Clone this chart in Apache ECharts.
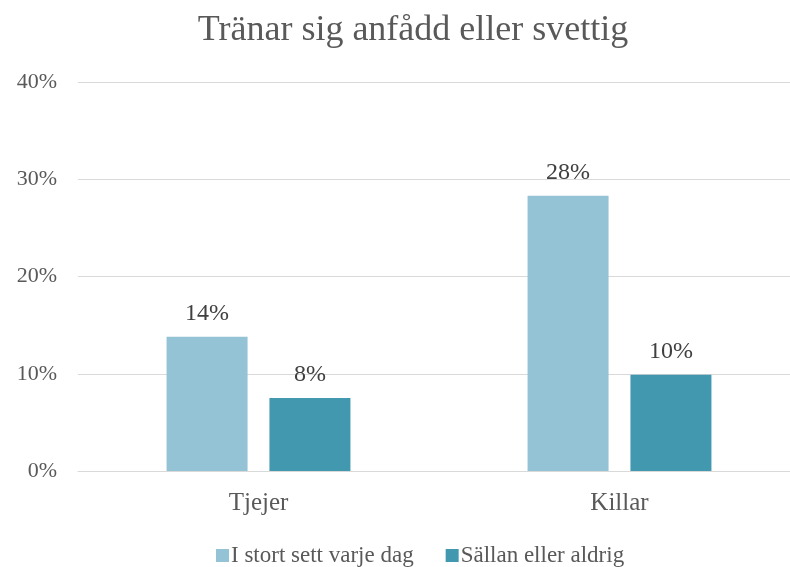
<!DOCTYPE html>
<html>
<head>
<meta charset="utf-8">
<script src="https://cdn.jsdelivr.net/npm/echarts@6/dist/echarts.min.js"></script>
<style>
  html, body { margin: 0; padding: 0; background: #fff; overflow: hidden; }
  /* the chart is a little wider than the viewport; its right edge is cut off */
  #chart { width: 826px; height: 567px; }
</style>
</head>
<body>
<div id="chart"></div>
<script>
// Andel som tränar så att de blir anfådda eller svettiga
const categories = ['Tjejer', 'Killar'];
const seriesNames = ['I stort sett varje dag', 'Sällan eller aldrig'];
const dailyValues = [0.138, 0.283];
const rarelyValues = [0.075, 0.099];
const yTicks = [0, 0.1, 0.2, 0.3, 0.4];

const FONT = '"Liberation Serif", "DejaVu Serif", serif';
const pct = v => Math.round(v * 100) + '%';

const chart = echarts.init(document.getElementById('chart'), null, { renderer: 'canvas' });

const labelStyle = {
  show: true,
  position: 'top',
  distance: 11,
  formatter: p => pct(p.value),
  fontFamily: FONT,
  fontSize: 24,
  color: '#404040'
};

chart.setOption({
  animation: false,
  backgroundColor: '#ffffff',
  title: {
    text: 'Tränar sig anfådd eller svettig',
    left: 'center',
    top: 8,
    textStyle: { fontFamily: FONT, fontSize: 36, fontWeight: 'normal', color: '#595959' }
  },
  legend: {
    data: seriesNames,
    left: 211,
    top: 539,
    itemWidth: 13,
    itemHeight: 13,
    itemGap: 32,
    icon: 'rect',
    textStyle: { fontFamily: FONT, fontSize: 23, color: '#595959', padding: [0, 0, 0, -3] }
  },
  grid: { left: 78, top: 82, right: 26, height: 389, containLabel: false },
  xAxis: {
    type: 'category',
    data: categories,
    axisLine: { lineStyle: { color: '#d9d9d9', width: 1 } },
    axisTick: { show: false },
    axisLabel: { fontFamily: FONT, fontSize: 25, color: '#595959', margin: 20 }
  },
  yAxis: {
    type: 'value',
    min: yTicks[0],
    max: yTicks[yTicks.length - 1],
    interval: yTicks[1] - yTicks[0],
    axisLine: { show: false },
    axisTick: { show: false },
    splitLine: { lineStyle: { color: '#d9d9d9', width: 1 } },
    axisLabel: {
      formatter: v => pct(v),
      fontFamily: FONT, fontSize: 22, color: '#595959', margin: 21
    }
  },
  series: [
    {
      name: seriesNames[0],
      type: 'bar',
      data: dailyValues,
      barWidth: 81,
      barGap: '27%',
      itemStyle: { color: '#93c3d4' },
      label: labelStyle
    },
    {
      name: seriesNames[1],
      type: 'bar',
      data: rarelyValues,
      barWidth: 81,
      barGap: '27%',
      itemStyle: { color: '#4298af' },
      label: labelStyle
    }
  ]
});
</script>
</body>
</html>
